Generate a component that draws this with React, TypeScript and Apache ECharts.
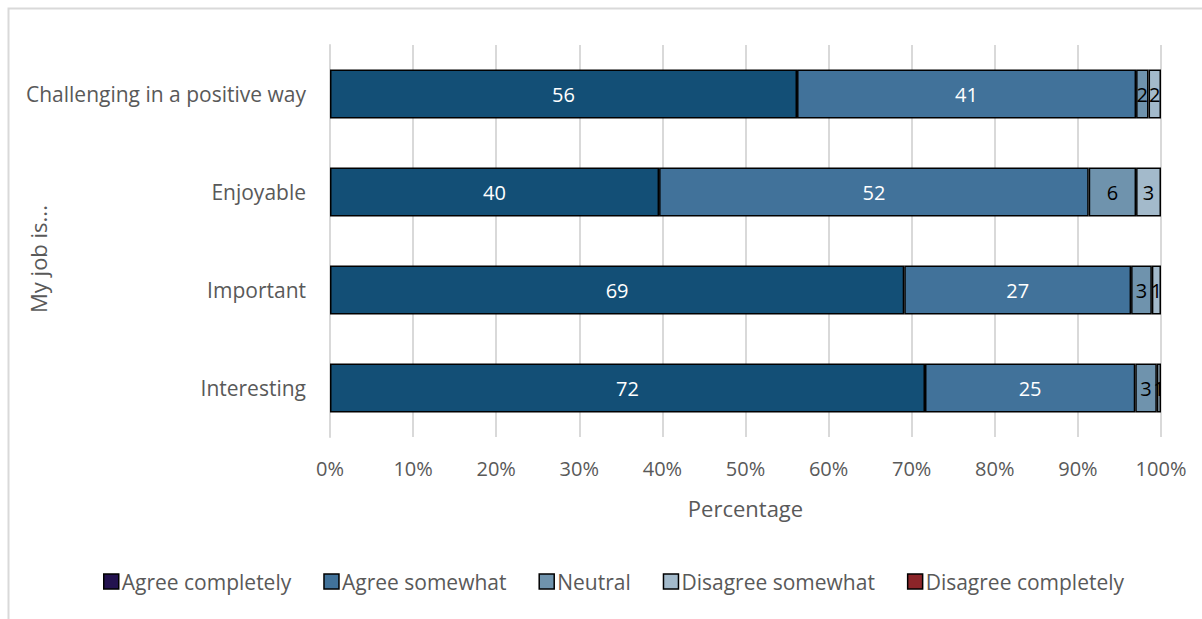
import React, { useEffect, useRef } from "react";
import * as echarts from "echarts";

const categories = ["Interesting", "Important", "Enjoyable", "Challenging in a positive way"];
const agreeCompletely = [71.6, 69.1, 39.6, 56.2];
const agreeSomewhat = [25.3, 27.3, 51.7, 40.8];
const neutral = [2.6, 2.5, 5.7, 1.5];
const disagreeSomewhat = [0.5, 1.1, 3.0, 1.5];
const disagreeCompletely = [0, 0, 0, 0];
const seriesNames = ["Agree completely", "Agree somewhat", "Neutral", "Disagree somewhat", "Disagree completely"];
const tickValues = [0, 10, 20, 30, 40, 50, 60, 70, 80, 90, 100];
const yAxisTitle = "My job is...";

const FONT = "'Open Sans', 'Noto Sans', sans-serif";
const barColors = ["#134f76", "#41729a", "#6f93ad", "#a3bacb", "#8b2529"];
const legendColors = ["#23124f", "#41729a", "#6f93ad", "#a3bacb", "#8b2529"];
const labelColors = ["#ffffff", "#ffffff", "#000000", "#000000", "#000000"];

export default function App() {
  const ref = useRef<HTMLDivElement>(null);
  useEffect(() => {
    if (!ref.current) return;
    const chart = echarts.init(ref.current, null, { renderer: "svg" });
    const data = [agreeCompletely, agreeSomewhat, neutral, disagreeSomewhat, disagreeCompletely];
    chart.setOption({
      animation: false,
      backgroundColor: "#ffffff",
      textStyle: { fontFamily: FONT },
      graphic: [
        {
          type: "rect",
          shape: { x: 8.5, y: 8.5, width: 1300, height: 700 },
          style: { fill: "none", stroke: "#d9d9d9", lineWidth: 2 },
          silent: true,
        },
        {
          type: "text",
          x: 38,
          y: 259,
          rotation: Math.PI / 2,
          silent: true,
          style: {
            text: yAxisTitle,
            fill: "#595959",
            fontSize: 22,
            fontFamily: FONT,
            align: "center",
            verticalAlign: "middle",
          },
        },
      ],
      grid: { left: 330, right: 41, top: 45, bottom: 182, containLabel: false, outerBoundsMode: "none" },
      xAxis: {
        type: "value",
        min: tickValues[0],
        max: tickValues[tickValues.length - 1],
        interval: 10,
        name: "Percentage",
        nameLocation: "middle",
        nameGap: 60,
        nameTextStyle: { color: "#595959", fontSize: 22, fontFamily: FONT },
        axisLabel: { formatter: "{value}%", color: "#595959", fontSize: 20, margin: 21, fontFamily: FONT },
        axisLine: { show: false },
        axisTick: { show: false },
        splitLine: { show: true, lineStyle: { color: "#d9d9d9", width: 2 } },
      },
      yAxis: {
        type: "category",
        data: categories,
        axisLabel: { color: "#595959", fontSize: 21, margin: 24, fontFamily: FONT },
        axisLine: { show: true, lineStyle: { color: "#d9d9d9", width: 2 } },
        axisTick: { show: false },
      },
      legend: {
        bottom: 22,
        left: 98,
        itemWidth: 15,
        itemHeight: 15,
        itemGap: 32,
        icon: "rect",
        textStyle: { color: "#595959", fontSize: 21, fontFamily: FONT, padding: [0, 0, 0, -2] },
        data: seriesNames.map((n, i) => ({
          name: n,
          itemStyle: { color: legendColors[i], borderColor: "#000000", borderWidth: 1.5 },
        })),
      },
      series: seriesNames.map((n, i) => ({
        name: n,
        type: "bar",
        stack: "total",
        barWidth: 49,
        data: data[i].map((v) => (v > 0 ? v : "-")),
        itemStyle: { color: barColors[i], borderColor: "#000000", borderWidth: 1.5 },
        label: {
          show: true,
          position: "inside",
          color: labelColors[i],
          fontSize: 20,
          fontFamily: FONT,
          formatter: (p: any) => (p.value > 0 ? String(Math.round(p.value)) : ""),
        },
      })),
    });
    return () => chart.dispose();
  }, []);
  return (
    <div
      ref={ref}
      style={{ position: "absolute", left: 0, top: 0, width: 1202, height: 619 }}
    />
  );
}
